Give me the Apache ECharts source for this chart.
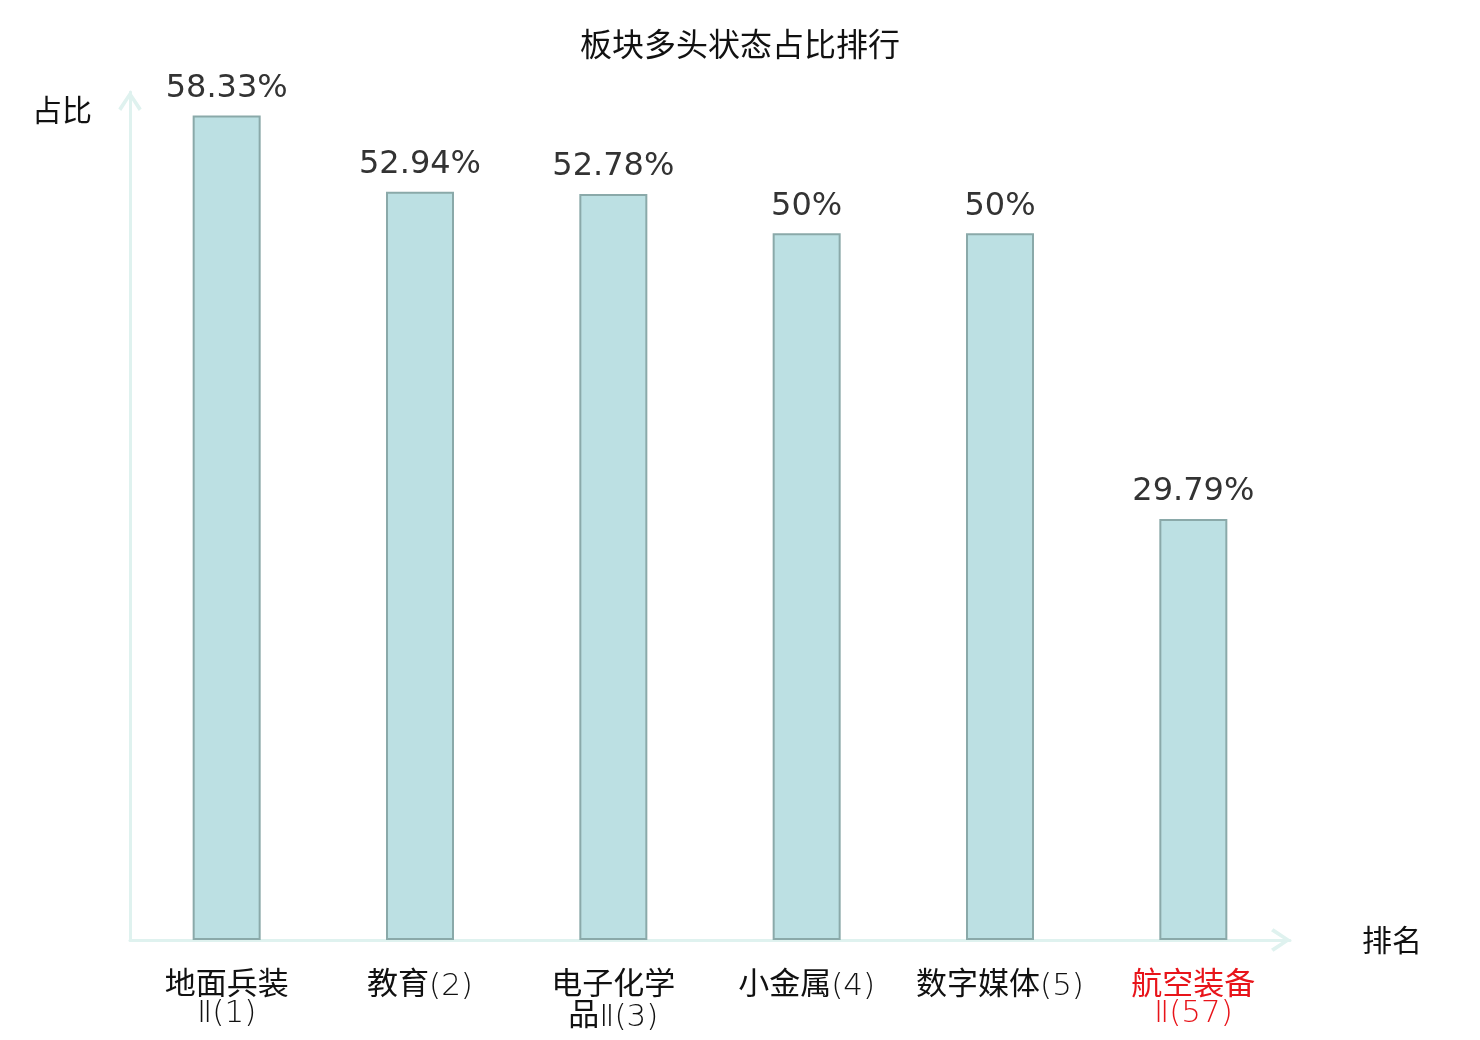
<!DOCTYPE html>
<html>
<head>
<meta charset="utf-8">
<title>板块多头状态占比排行</title>
<script src="https://cdn.jsdelivr.net/npm/echarts@6/dist/echarts.min.js"></script>
<style>
    html, body { margin: 0; padding: 0; background: #fff; }
    #main { width: 1480px; height: 1040px; }
</style>
</head>
<body>
<div id="main"></div>
<script>
// 板块名称（带排名）
var categories = ['地面兵装Ⅱ(1)', '教育(2)', '电子化学品Ⅱ(3)', '小金属(4)', '数字媒体(5)', '航空装备Ⅱ(57)'];
// 多头状态占比（%）
var ratios = [58.33, 52.94, 52.78, 50, 50, 29.79];
// 需要标红的板块下标
var highlightIndex = [5];

var axisColor = '#dff2ef';
// 空心箭头
var chevron = 'path://M0,18 L12,0 L24,18 L21,20.5 L12,6.5 L3,20.5 Z';

// 中文用常规字重，数字/括号用细体
function richLine(line) {
    return line.replace(/([\u4e00-\u9fff]+)|([^\u4e00-\u9fff]+)/g, function (m, cjk) {
        return cjk ? '{c|' + m + '}' : '{l|' + m + '}';
    });
}

var chart = echarts.init(document.getElementById('main'));

var option = {
    backgroundColor: '#fff',
    title: {
        text: '板块多头状态占比排行',
        left: 'center',
        top: 23,
        textStyle: {
            color: '#111',
            fontSize: 32,
            fontWeight: 'normal',
            fontFamily: 'Noto Sans CJK SC'
        }
    },
    grid: {
        left: 130,
        right: 190,
        top: 92,
        bottom: 100,
        containLabel: false,
        outerBoundsMode: 'none'
    },
    xAxis: {
        type: 'category',
        data: categories,
        name: '排名',
        nameGap: 72,
        nameTextStyle: {
            color: '#111',
            fontSize: 30,
            fontFamily: 'Noto Sans CJK SC'
        },
        axisLine: {
            lineStyle: { color: axisColor, width: 3 },
            symbol: ['none', chevron],
            symbolSize: [24, 20],
            symbolOffset: [0, -9]
        },
        axisTick: { show: false },
        axisLabel: {
            interval: 0,
            margin: 27,
            fontSize: 31,
            lineHeight: 31,
            color: function (value, index) {
                return highlightIndex.indexOf(index) > -1 ? '#e8141a' : '#111';
            },
            // 名称过长时在第 4 个字后换行
            formatter: function (value) {
                var lines = value.length > 7 ? [value.slice(0, 4), value.slice(4)] : [value];
                return lines.map(richLine).join('\n');
            },
            rich: {
                c: {
                    fontSize: 31,
                    lineHeight: 31,
                    fontFamily: 'Noto Sans CJK SC'
                },
                l: {
                    fontSize: 31,
                    lineHeight: 23,
                    padding: [8, 0, 0, 0],
                    fontWeight: 200,
                    fontFamily: 'DejaVu Sans'
                }
            }
        }
    },
    yAxis: {
        type: 'value',
        min: 0,
        max: 60,
        name: '占比',
        nameLocation: 'end',
        nameGap: -18,
        nameTextStyle: {
            color: '#111',
            fontSize: 30,
            fontFamily: 'Noto Sans CJK SC',
            align: 'right',
            verticalAlign: 'middle',
            padding: [0, 38, 0, 0]
        },
        axisLine: {
            show: true,
            lineStyle: { color: axisColor, width: 3 },
            symbol: ['none', chevron],
            symbolSize: [24, 20],
            symbolOffset: [0, -9]
        },
        axisTick: { show: false },
        axisLabel: { show: false },
        splitLine: { show: false }
    },
    series: [{
        type: 'bar',
        data: ratios,
        barWidth: 68,
        itemStyle: {
            color: '#bce0e3',
            borderColor: '#8aa9a9',
            borderWidth: 2
        },
        label: {
            show: true,
            position: 'top',
            distance: 11,
            color: '#333',
            fontSize: 32,
            fontFamily: 'DejaVu Sans',
            formatter: '{c}%'
        }
    }]
};

chart.setOption(option);
</script>
</body>
</html>
